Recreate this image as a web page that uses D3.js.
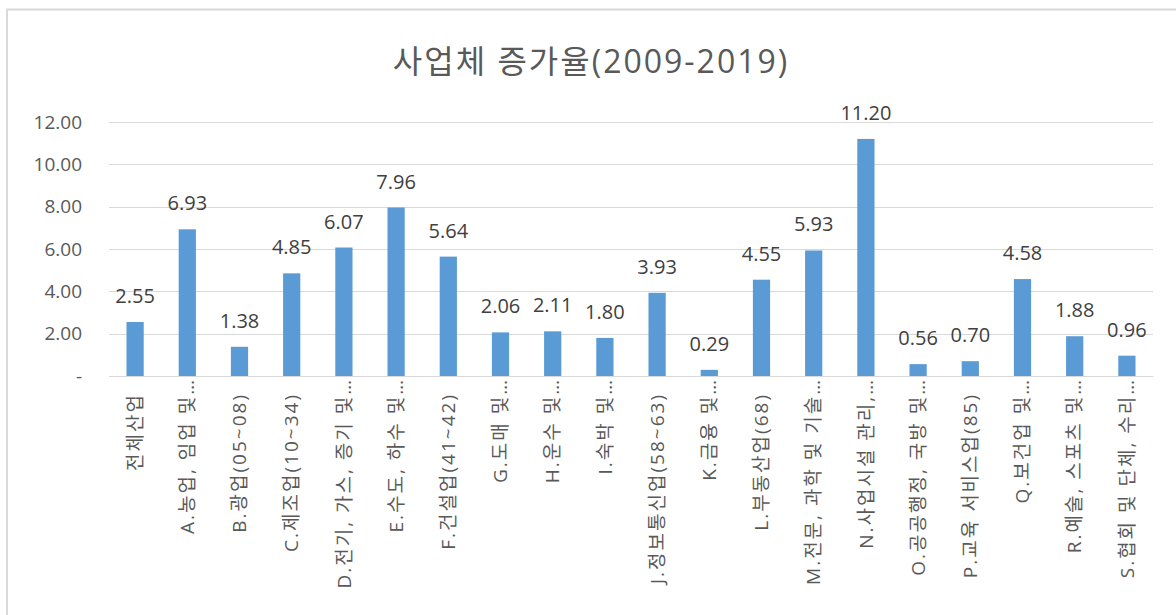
<!DOCTYPE html>
<html>
<head>
<meta charset="utf-8">
<script src="https://cdn.jsdelivr.net/npm/d3@7"></script>
<style>
  html, body { margin: 0; padding: 0; background: #ffffff; }
  svg { display: block; }
  text { font-family: "Open Sans", "Noto Sans CJK KR", sans-serif; }
</style>
</head>
<body>
<svg id="chart" width="1176" height="615"></svg>
<script>
const title = "사업체 증가율(2009-2019)";
const categories = [
  "전체산업",
  "A.농업, 임업 및…",
  "B.광업(05~08)",
  "C.제조업(10~34)",
  "D.전기, 가스, 증기 및…",
  "E.수도, 하수 및…",
  "F.건설업(41~42)",
  "G.도매 및…",
  "H.운수 및…",
  "I.숙박 및…",
  "J.정보통신업(58~63)",
  "K.금융 및…",
  "L.부동산업(68)",
  "M.전문, 과학 및 기술…",
  "N.사업시설 관리,…",
  "O.공공행정, 국방 및…",
  "P.교육 서비스업(85)",
  "Q.보건업 및…",
  "R.예술, 스포츠 및…",
  "S.협회 및 단체, 수리…"
];
const values = [2.55, 6.93, 1.38, 4.85, 6.07, 7.96, 5.64, 2.06, 2.11, 1.80, 3.93, 0.29, 4.55, 5.93, 11.20, 0.56, 0.70, 4.58, 1.88, 0.96];
const yTicks = [0, 2, 4, 6, 8, 10, 12];

const svg = d3.select("#chart");

// chart border
svg.append("rect")
  .attr("x", 7).attr("y", 9.5)
  .attr("width", 1300).attr("height", 800)
  .attr("fill", "none")
  .attr("stroke", "#d9d9d9")
  .attr("stroke-width", 2);

const x = d3.scaleBand().domain(categories).range([109, 1153])
  .paddingInner(0.67).paddingOuter(0.335);
const y = d3.scaleLinear().domain([0, 12]).range([376, 122]);

// title
svg.append("text")
  .attr("x", 591).attr("y", 73)
  .attr("text-anchor", "middle")
  .attr("fill", "#595959")
  .style("font-size", "32px")
  .style("letter-spacing", "2px")
  .text(title);

// gridlines
svg.append("g").selectAll("line").data(yTicks).join("line")
  .attr("x1", 109).attr("x2", 1153)
  .attr("y1", d => Math.round(y(d)) + 0.5).attr("y2", d => Math.round(y(d)) + 0.5)
  .attr("stroke", "#d9d9d9").attr("stroke-width", 1.2);

// y axis
const yAxis = svg.append("g").attr("transform", "translate(84,0)")
  .call(d3.axisLeft(y).tickValues(yTicks).tickSize(0).tickPadding(2)
    .tickFormat(d => d === 0 ? "-" : d3.format(".2f")(d)));
yAxis.select(".domain").remove();
yAxis.selectAll("text")
  .attr("fill", "#595959")
  .style("font-size", "19px")
  .style("font-family", "'Open Sans', 'Noto Sans CJK KR', sans-serif");

// bars
svg.append("g").selectAll("rect").data(values).join("rect")
  .attr("x", (d, i) => x(categories[i]))
  .attr("width", x.bandwidth())
  .attr("y", d => y(d))
  .attr("height", d => y(0) - y(d))
  .attr("fill", "#5b9bd5");

// data labels
svg.append("g").selectAll("text").data(values).join("text")
  .attr("x", (d, i) => x(categories[i]) + x.bandwidth() / 2)
  .attr("y", d => y(d) - 19)
  .attr("text-anchor", "middle")
  .attr("fill", "#404040")
  .style("font-size", "20px")
  .text(d => d3.format(".2f")(d));

// x axis
const xAxis = svg.append("g").attr("transform", "translate(0,376)")
  .call(d3.axisBottom(x).tickSize(0));
xAxis.select(".domain").attr("stroke", "#d9d9d9").attr("stroke-width", 1.2);
xAxis.selectAll("text")
  .attr("transform", "rotate(-90)")
  .attr("text-anchor", "end")
  .attr("x", d => d.endsWith("…") ? -2 : -17)
  .attr("y", 0)
  .attr("dy", "0.35em")
  .attr("fill", "#595959")
  .style("font-size", "19px")
  .style("letter-spacing", "2px")
  .style("font-family", "'Open Sans', 'Noto Sans CJK KR', sans-serif");
</script>
</body>
</html>
